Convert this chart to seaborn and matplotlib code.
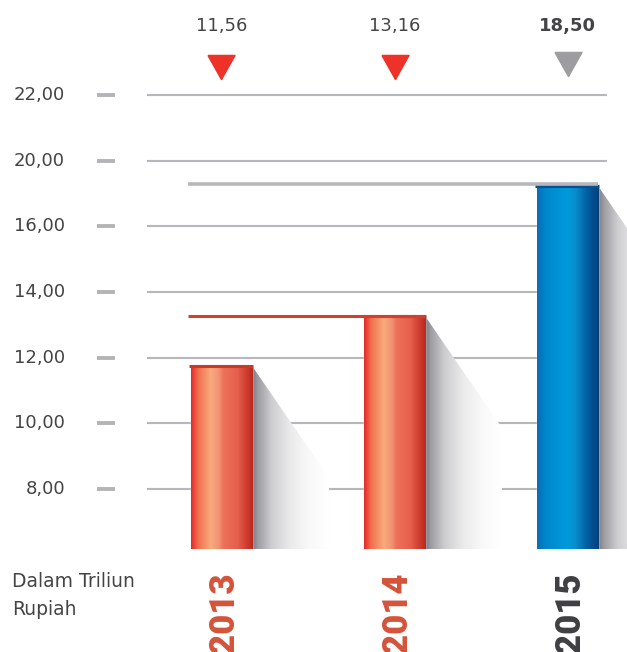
import matplotlib
matplotlib.use("Agg")
import matplotlib.pyplot as plt
import seaborn as sns
import numpy as np
import pandas as pd
from matplotlib.colors import LinearSegmentedColormap
from matplotlib.patches import Polygon

# data
years = ["2013", "2014", "2015"]
bar_heights = [11.75, 13.27, 17.23]          # bar tops against the gridlines
value_labels = ["11,56", "13,16", "18,50"]   # printed values above the bars
tick_positions = [8, 10, 12, 14, 16, 18, 20]
tick_labels = ["8,00", "10,00", "12,00", "14,00", "16,00", "20,00", "22,00"]

bar_colors = ["#ee6a52", "#ee6a52", "#0095d6"]
year_colors = ["#d4523a", "#d4523a", "#3f3f41"]
marker_colors = ["#ee3129", "#ee3129", "#9d9d9f"]

red_grad = [(0, "#e52a29"), (0.12, "#f2714f"), (0.32, "#f8ab7d"), (0.45, "#f29272"),
            (0.52, "#ee7159"), (0.75, "#e6604d"), (0.9, "#cf3b2e"), (1, "#b9281f")]
blue_grad = [(0, "#0a6db6"), (0.15, "#0088cc"), (0.5, "#009bdc"), (0.62, "#0a8ccd"),
             (0.82, "#045ca0"), (1, "#023f7d")]
shadow_grad = [(0, "#7a7a81"), (0.08, "#9e9ea3"), (0.25, "#cdcdd0"), (0.5, "#ebebec"),
               (0.75, "#f9f9f9"), (1, "#ffffff")]

# layout (data units)
base = 6.17
bar_width = 0.353
x_lim = (-1.2803, 2.3439)
y_lim = (3.035, 22.895)
grid_x = (-0.4306, 2.2283)
shadow_w = 0.445
shadow_drop = 3.41

sns.set_style("white")
plt.rcParams["font.family"] = ["DejaVu Sans"]

fig = plt.figure(figsize=(6.27, 6.52), dpi=100)
ax = fig.add_axes([0, 0, 1, 1])

df = pd.DataFrame({"year": years, "value": bar_heights})
sns.barplot(data=df, x="year", y="value", hue="year", palette=bar_colors,
            width=bar_width, saturation=1, legend=False, ax=ax, zorder=3)


def gradient_fill(clip, x0, x1, y0, y1, stops, z):
    cmap = LinearSegmentedColormap.from_list("g", stops)
    grad = np.linspace(0, 1, 256).reshape(1, -1)
    im = ax.imshow(grad, cmap=cmap, extent=[x0, x1, y0, y1], aspect="auto",
                   origin="lower", interpolation="bilinear", zorder=z)
    im.set_clip_path(clip)


# flat down-pointing triangle used above the bars
tri = [(-1, 0.89), (1, 0.89), (0, -0.89), (-1, 0.89)]

# gridlines and the little dashes next to the tick labels
for yv, lab in zip(tick_positions, tick_labels):
    ax.hlines(yv, grid_x[0], grid_x[1], color="#b7b7bb", lw=1.5, zorder=1)
    ax.hlines(yv, -0.7196, -0.6156, color="#b4b4b8", lw=2.8, zorder=1)
    ax.text(-0.9046, yv, lab, ha="right", va="center", fontsize=13, color="#444446")

for i, p in enumerate(ax.patches):
    h = bar_heights[i]
    p.set_y(base)
    p.set_height(h - base)
    x0 = p.get_x()
    x1 = x0 + p.get_width()
    # shadow to the right of each bar
    shadow = Polygon([(x1, h), (x1 + shadow_w, h - shadow_drop), (x1 + shadow_w, base), (x1, base)],
                     closed=True, facecolor="none", edgecolor="none", zorder=2)
    ax.add_patch(shadow)
    gradient_fill(shadow, x1, x1 + shadow_w, base, h, shadow_grad, 2)
    # cylinder look on the bar
    gradient_fill(p, x0, x1, base, h, red_grad if i < 2 else blue_grad, 3.1)
    cap = "#c8392b" if i < 2 else "#0a4f8f"
    ax.hlines(h, x0 - 0.01, x1 + 0.005, color=cap, lw=2.2, zorder=4)

    # value label and marker on top
    ax.text(i, 22.1, value_labels[i], ha="center", va="center", fontsize=13,
            color="#444446", fontweight="bold" if i == 2 else "normal")
    ax.plot(i, 20.854 if i < 2 else 20.945, marker=tri, ms=19.5, color=marker_colors[i],
            linestyle="none", zorder=5)

    # year label under the bar
    ax.text(i + 0.02, 5.47, years[i], rotation=90, ha="center", va="top", fontsize=25,
            fontweight=900, color=year_colors[i], family=["Roboto", "DejaVu Sans"])

# reference lines across the bars
left_edge = ax.patches[0].get_x() - 0.02
ax.hlines(bar_heights[1], left_edge, ax.patches[1].get_x() + bar_width,
          color="#d0402f", lw=2.2, zorder=4)
ax.hlines(bar_heights[2] + 0.05, left_edge, ax.patches[2].get_x() + bar_width,
          color="#b8b8bc", lw=2.6, zorder=4)

ax.text(-1.211, 5.47, "Dalam Triliun\nRupiah", ha="left", va="top", fontsize=13.5,
        color="#444446", linespacing=1.6)

ax.set_xlim(*x_lim)
ax.set_ylim(*y_lim)
ax.axis("off")

fig.savefig("out.png", dpi=100)
